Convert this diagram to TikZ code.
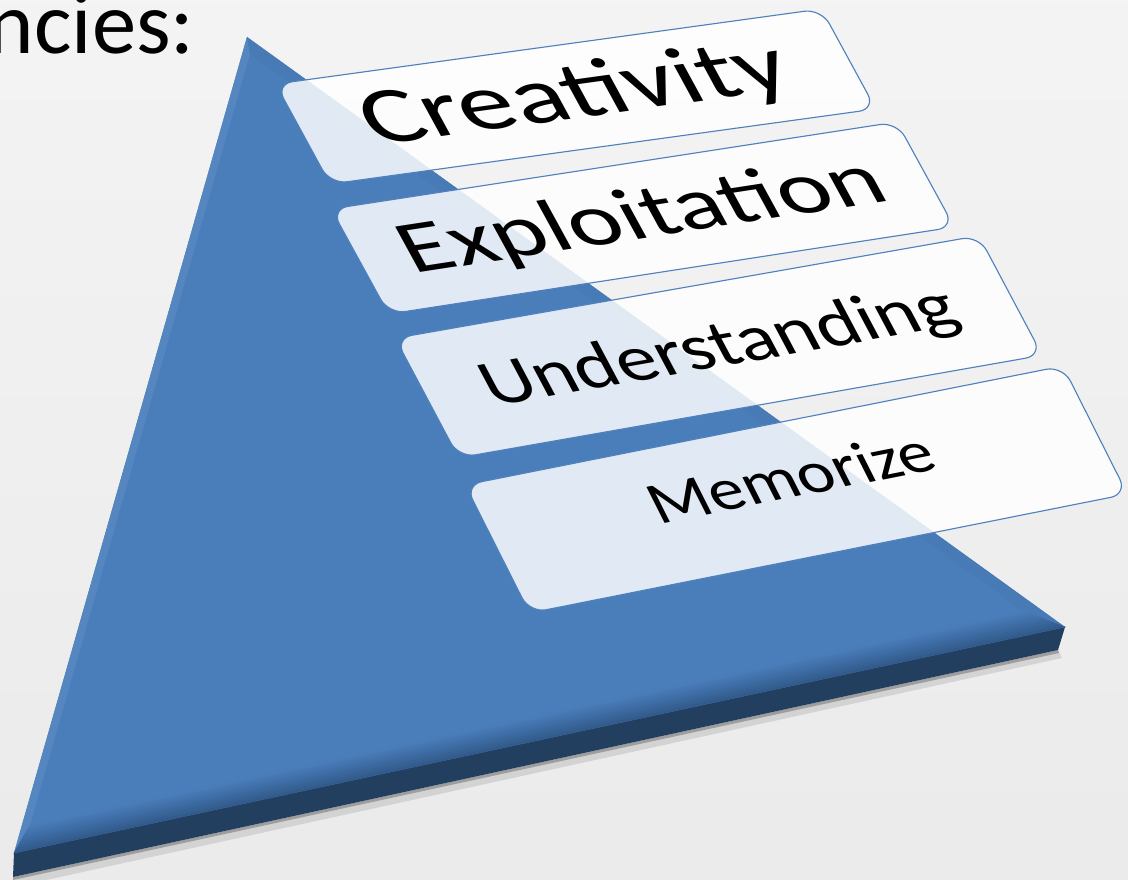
\documentclass[tikz,border=0pt]{standalone}
\usepackage{fontspec}
\setmainfont{Carlito}
\usetikzlibrary{calc}

\definecolor{pyrblau}{HTML}{4A7EBB}
\definecolor{pyrkante}{HTML}{31598A}
\definecolor{pyrseite}{HTML}{233F60}
\definecolor{rahmen}{HTML}{4F81BD}

\begin{document}
\begin{tikzpicture}[x=0.025cm, y=-0.025cm,
  stufe/.style={draw=rahmen, line width=0.8pt, fill=white, fill opacity=0.84,
    rounded corners=12pt},
  beschriftung/.style={transform shape, inner sep=0pt, text=black}
]

\useasboundingbox (0,0) rectangle (1128,879);
\clip (0,0) rectangle (1128,879);

% Hintergrund
\shade[top color=gray!9, bottom color=gray!16] (0,0) rectangle (1128,879);

% Titel (links abgeschnitten)
\node[anchor=base east, inner sep=0pt, font=\fontsize{63}{75}\selectfont]
  (titel) at (195,54) {ncies:};

% Eckpunkte der Pyramide
\coordinate (A)  at (247,37);
\coordinate (L)  at (14,853);
\coordinate (R)  at (1065,627);
\coordinate (L2) at (13,877);
\coordinate (R2) at (1058,650);
\coordinate (Ai) at (250,54);
\coordinate (Li) at (30,825);
\coordinate (Ri) at (1023,611);

% Schatten
\fill[black, opacity=0.10] (L2) -- (R2) -- (1062,658) -- (14,887) -- cycle;
\fill[black, opacity=0.25] (L2) -- (R2) -- (1059,653) -- (13,880) -- cycle;

% Seitenflaeche
\fill[pyrseite] (L) -- (R) -- (R2) -- (L2) -- cycle;

% Deckflaeche mit Fase
\fill[pyrblau] (A) -- (L) -- (R) -- cycle;
\fill[pyrblau!94!white] (A) -- (L) -- (Li) -- (Ai) -- cycle;
\fill[pyrblau!97!black] (A) -- (Ai) -- (Ri) -- (R) -- cycle;
\foreach \i in {0,...,9} {
  \pgfmathsetmacro\j{\i+1}
  \pgfmathtruncatemacro\mix{\i*10+5}
  \filldraw[pyrblau!\mix!pyrkante, line width=0.4pt]
    ($(L)!\i/10!(Li)$) -- ($(R)!\i/10!(Ri)$) -- ($(R)!\j/10!(Ri)$)
    -- ($(L)!\j/10!(Li)$) -- cycle;
}

% Stufe 1
\begin{scope}[shift={(575.75,96.5)}, cm={3.880,0.534,-1.491,2.736,(0,0)}, x=1pt, y=1pt]
  \draw[stufe] (-50,-13) -- (50,-13) -- (50,13) -- (-50,13) -- cycle;
  \node[beschriftung, font=\fontsize{20}{24}\selectfont] (creativity) at (0,0) {Creativity};
\end{scope}

% Stufe 2
\begin{scope}[shift={(642.75,218)}, cm={4.022,0.619,-1.573,2.873,(0,0)}, x=1pt, y=1pt]
  \draw[stufe] (-50,-13) -- (50,-13) -- (50,13) -- (-50,13) -- cycle;
  \node[beschriftung, font=\fontsize{17.5}{21}\selectfont] (exploitation) at (0,0) {Exploitation};
\end{scope}

% Stufe 3
\begin{scope}[shift={(718.75,346.75)}, cm={4.150,0.729,-1.737,3.269,(0,0)}, x=1pt, y=1pt]
  \draw[stufe] (-50,-13) -- (50,-13) -- (50,13) -- (-50,13) -- cycle;
  \node[beschriftung, font=\fontsize{13.5}{16}\selectfont] (understanding) at (0,-0.5) {Understanding};
\end{scope}

% Stufe 4
\begin{scope}[shift={(796.25,489.5)}, cm={4.250,0.846,-1.765,3.502,(0,0)}, x=1pt, y=1pt]
  \draw[stufe] (-50,-13) -- (50,-13) -- (50,13) -- (-50,13) -- cycle;
  \node[beschriftung, font=\fontsize{11.4}{14}\selectfont] (memorize) at (0,2.5) {Memorize};
\end{scope}

\end{tikzpicture}
\end{document}
